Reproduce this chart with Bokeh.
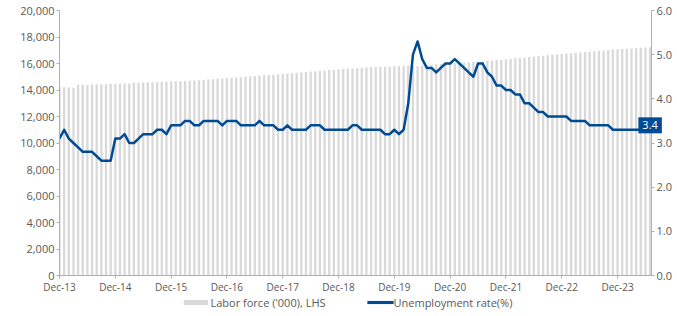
from bokeh.plotting import figure
from bokeh.models import (Range1d, LinearAxis, FixedTicker, NumeralTickFormatter,
                          Label, ColumnDataSource)
from bokeh.embed import file_html
from bokeh.resources import INLINE

# ---------------- data ----------------
# Monthly, Dec-13 ... Jul-24 (index 0 = Dec-13)
labor_force = [
    14200,
    14210, 14190, 14170, 14400, 14420, 14390, 14410, 14430, 14420, 14440, 14450, 14460,
    14480, 14500, 14490, 14530, 14550, 14560, 14580, 14590, 14600, 14610, 14630, 14650,
    14660, 14670, 14690, 14700, 14720, 14740, 14760, 14790, 14810, 14840, 14860, 14890,
    14920, 14950, 14970, 15000, 15030, 15050, 15080, 15110, 15130, 15160, 15190, 15210,
    15240, 15270, 15300, 15330, 15360, 15390, 15420, 15450, 15480, 15510, 15530, 15560,
    15590, 15610, 15630, 15650, 15670, 15690, 15710, 15730, 15750, 15760, 15780, 15800,
    15810, 15830, 15840, 15800, 15790, 15850, 15880, 15910, 15940, 15960, 15990, 16010,
    16030, 16050, 16070, 16090, 16110, 16130, 16160, 16190, 16220, 16260, 16290, 16320,
    16360, 16390, 16420, 16460, 16490, 16520, 16560, 16590, 16620, 16660, 16690, 16720,
    16750, 16780, 16810, 16840, 16870, 16900, 16930, 16960, 16990, 17020, 17050, 17080,
    17100, 17120, 17140, 17160, 17180, 17200, 17230,
]
unemployment = [
    3.1,
    3.3, 3.1, 3.0, 2.9, 2.8, 2.8, 2.8, 2.7, 2.6, 2.6, 2.6, 3.1,
    3.1, 3.2, 3.0, 3.0, 3.1, 3.2, 3.2, 3.2, 3.3, 3.3, 3.2, 3.4,
    3.4, 3.4, 3.5, 3.5, 3.4, 3.4, 3.5, 3.5, 3.5, 3.5, 3.4, 3.5,
    3.5, 3.5, 3.4, 3.4, 3.4, 3.4, 3.5, 3.4, 3.4, 3.4, 3.3, 3.3,
    3.4, 3.3, 3.3, 3.3, 3.3, 3.4, 3.4, 3.4, 3.3, 3.3, 3.3, 3.3,
    3.3, 3.3, 3.4, 3.4, 3.3, 3.3, 3.3, 3.3, 3.3, 3.2, 3.2, 3.3,
    3.2, 3.3, 3.9, 5.0, 5.3, 4.9, 4.7, 4.7, 4.6, 4.7, 4.8, 4.8,
    4.9, 4.8, 4.7, 4.6, 4.5, 4.8, 4.8, 4.6, 4.5, 4.3, 4.3, 4.2,
    4.2, 4.1, 4.1, 3.9, 3.9, 3.8, 3.7, 3.7, 3.6, 3.6, 3.6, 3.6,
    3.6, 3.5, 3.5, 3.5, 3.5, 3.4, 3.4, 3.4, 3.4, 3.4, 3.3, 3.3,
    3.3, 3.3, 3.3, 3.3, 3.3, 3.3, 3.4,
]
tick_labels = ["Dec-13", "Dec-14", "Dec-15", "Dec-16", "Dec-17", "Dec-18",
               "Dec-19", "Dec-20", "Dec-21", "Dec-22", "Dec-23"]
series_names = ["Labor force ('000), LHS", "Unemployment rate(%)"]
last_label = "3.4"

idx = list(range(len(labor_force)))
src = ColumnDataSource(dict(x=idx, lf=labor_force, ur=unemployment))

FONT = "Open Sans"
TXT = "#595959"
AX = "#b0b0b0"
BLUE = "#004b93"
BAR = "#d9d9d9"

FRAME_W, FRAME_H = 592, 265
X_END, Y_END = 127.3, 20000

p = figure(frame_width=FRAME_W, frame_height=FRAME_H, output_backend="svg",
           toolbar_location=None,
           x_range=Range1d(0, X_END), y_range=Range1d(0, Y_END),
           min_border_left=59, min_border_right=26, min_border_top=10,
           min_border_bottom=41, outline_line_color=None)
p.extra_y_ranges = {"ur": Range1d(0, 6)}
p.xgrid.visible = False
p.ygrid.visible = False

bars = p.vbar(x="x", top="lf", width=0.5, source=src, fill_color=BAR,
              line_color=None)
line = p.line(x="x", y="ur", source=src, y_range_name="ur", line_color=BLUE,
              line_width=2.5, line_join="round")

def style(ax):
    ax.axis_line_color = AX
    ax.major_tick_line_color = AX
    ax.minor_tick_line_color = None
    ax.major_tick_in = 0
    ax.major_tick_out = 3
    ax.major_label_text_font = FONT
    ax.major_label_text_color = TXT

xa = p.xaxis[0]
style(xa)
xa.ticker = FixedTicker(ticks=[12 * k for k in range(len(tick_labels))])
xa.major_label_overrides = {12 * k: t for k, t in enumerate(tick_labels)}
xa.major_label_text_font_size = "10px"
xa.major_label_standoff = 1

ya = p.yaxis[0]
style(ya)
ya.ticker = FixedTicker(ticks=list(range(0, 20001, 2000)))
ya.formatter = NumeralTickFormatter(format="0,0")
ya.major_label_text_font_size = "11px"
ya.major_label_standoff = 2

yr = LinearAxis(y_range_name="ur")
style(yr)
yr.ticker = FixedTicker(ticks=[0, 1, 2, 3, 4, 5, 6])
yr.formatter = NumeralTickFormatter(format="0.0")
yr.major_label_text_font_size = "11px"
yr.major_label_standoff = 2
p.add_layout(yr, "right")

# end-value label (placed in a side panel so it is not clipped by the frame)
lbl = Label(x=idx[-1], y=unemployment[-1], y_range_name="ur", text=last_label,
            text_color="white", text_font=FONT, text_font_size="11px",
            text_align="center", text_baseline="middle",
            background_fill_color=BLUE, padding=4)
p.add_layout(lbl, "right")

# ---- legend, drawn below the axis (positions given in frame pixels) ----
def dx(px):   # frame pixel offset -> x data
    return px / FRAME_W * X_END

def dy(py):   # pixels below frame bottom -> y data (left range)
    return -py / FRAME_H * Y_END

LEG_Y = 27  # legend row centre, px below the frame

def swatch(cx, color, half_w, half_h):
    s = Label(x=dx(cx), y=dy(LEG_Y), text=" ", text_font_size="1px",
              text_align="center", text_baseline="middle",
              background_fill_color=color)
    try:
        s.padding = dict(left=half_w, right=half_w, top=half_h, bottom=half_h)
    except Exception:
        s.padding = (half_w, half_w, half_h, half_h)
    p.add_layout(s, "right")

swatch(136.5, BAR, 12, 2)
swatch(321, BLUE, 13, 1)
for name, left in zip(series_names, [151, 334]):
    p.add_layout(Label(x=dx(left), y=dy(LEG_Y), text=name, text_font=FONT,
                       text_font_size="11px", text_color=TXT,
                       text_align="left", text_baseline="middle"), "right")

open("out.html", "w").write(file_html(p, INLINE))
